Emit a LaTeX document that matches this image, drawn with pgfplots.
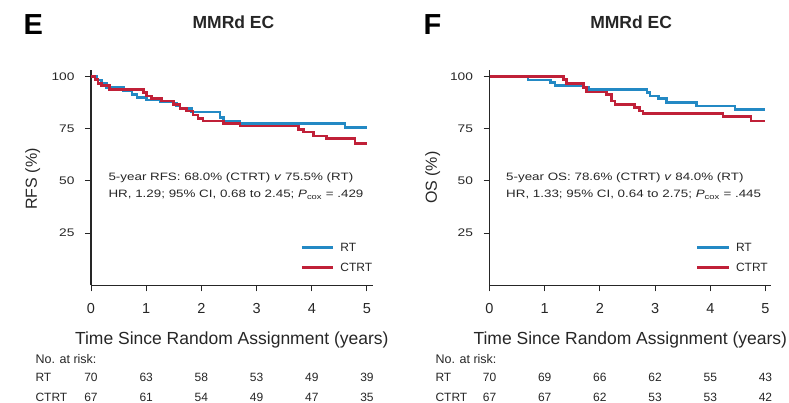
\documentclass[border=0pt]{standalone}
\usepackage{fontspec}
\setmainfont{Liberation Sans}
\newfontfamily\widefont[FakeStretch=1.25]{Liberation Sans}
\usepackage{pgfplots}
\pgfplotsset{compat=1.18}
\definecolor{rtblue}{RGB}{35,137,196}
\definecolor{ctred}{RGB}{192,32,56}
\definecolor{txt}{gray}{0.15}
\definecolor{axl}{gray}{0.15}
\tikzset{
  risk/.style={anchor=base, font=\fontsize{12}{14}\selectfont, text=txt},
  note/.style={anchor=base west, font=\widefont\fontsize{10.7}{12}\selectfont, text=txt},
}
\pgfplotsset{kmstyle/.style={
  scale only axis, width=281.5pt, height=215.5pt,
  xmin=0, xmax=5.1, ymin=0, ymax=103,
  axis lines=left, axis line style={-, color=axl, line width=1.3pt},
  xtick={0,1,2,3,4,5}, ytick={25,50,75,100},
  tick align=outside, major tick length=6pt,
  tick style={color=axl, line width=1pt},
  /pgf/number format/assume math mode=true,
  xticklabel style={font=\fontsize{14.5}{16}\selectfont, text=txt, yshift=-8pt},
  yticklabel style={font=\widefont\fontsize{11}{13}\selectfont, text=txt, xshift=-7pt},
  clip=false,
  xlabel style={font=\fontsize{17.5}{20}\selectfont, text=txt, at={(axis description cs:0.5,0)}, anchor=base, yshift=-59.5pt},
  ylabel style={font=\fontsize{16}{18}\selectfont, text=txt, anchor=center},
  title style={font=\bfseries\fontsize{17.5}{20}\selectfont, text=txt, anchor=center},
  legend cell align=left,
  legend style={draw=none, fill=none, inner sep=0pt, anchor=west,
    font=\fontsize{12}{14}\selectfont, text=txt,
    nodes={inner sep=0pt, text height=8.6pt, text depth=0pt},
    row sep=11.8pt},
  legend image code/.code={\draw[##1, line width=2.8pt] (0pt,0pt) -- (31.6pt,0pt); \path (37.3pt,0pt);},
}}
\begin{document}
\begin{tikzpicture}[x=1pt,y=1pt]
\path[use as bounding box] (0,0) rectangle (789,403);
\begin{axis}[kmstyle, at={(91pt,117.5pt)}, anchor=south west,
  xlabel={Time Since Random Assignment (years)},
  ylabel={RFS (\%)},
  ylabel style={at={(axis description cs:-0.207,0.494)}},
  title={MMRd EC},
  title style={at={(axis description cs:0.506,1.1926)}},
  legend style={at={(axis description cs:0.743,0.13)}},
]
\addplot[const plot, color=rtblue, line width=2.6pt] coordinates {
(0,100) (0.10,98.2) (0.19,96.6) (0.28,94.6) (0.59,93.0) (0.74,91.4) (0.83,89.8)
(1.01,88.7) (1.25,87.7) (1.49,87.1) (1.55,85.8) (1.61,84.6) (1.82,82.9)
(2.34,80.2) (2.40,78.6) (2.70,77.5) (4.60,75.5) (5.0,75.5)};
\addlegendentry{RT}
\addplot[const plot, color=ctred, line width=2.6pt] coordinates {
(0,100) (0.07,98.5) (0.13,96.5) (0.19,95.5) (0.34,93.8) (0.95,92.2) (1.01,90.6)
(1.10,89.3) (1.28,88.2) (1.49,86.6) (1.61,84.6) (1.73,83.4) (1.85,81.4)
(1.94,79.8) (2.03,78.6) (2.40,77.5) (2.70,76.2) (3.76,74.7) (3.85,73.4)
(4.03,71.5) (4.27,70.2) (4.78,68.0) (5.0,68.0)};
\addlegendentry{CTRT}
\node[note] at (axis cs:0.254,50.1) {5-year RFS: 68.0\% (CTRT) \textit{v} 75.5\% (RT)};
\node[note] at (axis cs:0.254,42.0) {HR, 1.29; 95\% CI, 0.68 to 2.45; \textit{P}\textsubscript{cox} = .429};
\node[risk] at (axis cs:0,-46.0) {70};
\node[risk] at (axis cs:1,-46.0) {63};
\node[risk] at (axis cs:2,-46.0) {58};
\node[risk] at (axis cs:3,-46.0) {53};
\node[risk] at (axis cs:4,-46.0) {49};
\node[risk] at (axis cs:5,-46.0) {39};
\node[risk] at (axis cs:0,-55.5) {67};
\node[risk] at (axis cs:1,-55.5) {61};
\node[risk] at (axis cs:2,-55.5) {54};
\node[risk] at (axis cs:3,-55.5) {49};
\node[risk] at (axis cs:4,-55.5) {47};
\node[risk] at (axis cs:5,-55.5) {35};
\end{axis}
\begin{axis}[kmstyle, at={(489.5pt,117.5pt)}, anchor=south west,
  xlabel={Time Since Random Assignment (years)},
  ylabel={OS (\%)},
  ylabel style={at={(axis description cs:-0.2018,0.50)}},
  title={MMRd EC},
  title style={at={(axis description cs:0.503,1.1926)}},
  legend style={at={(axis description cs:0.733,0.13)}},
]
\addplot[const plot, color=rtblue, line width=2.6pt] coordinates {
(0,100) (0.70,98.2) (1.10,97.0) (1.19,95.7) (1.70,94.6) (1.79,93.8) (2.85,92.2)
(2.91,90.6) (3.06,89.3) (3.21,87.4) (3.75,85.8) (4.45,84.0) (5.0,84.0)};
\addlegendentry{RT}
\addplot[const plot, color=ctred, line width=2.6pt] coordinates {
(0,100) (1.34,98.5) (1.40,96.6) (1.70,94.6) (1.76,92.5) (2.12,91.4) (2.21,88.2)
(2.27,86.6) (2.63,85.0) (2.72,83.4) (2.78,82.2) (4.23,80.7) (4.74,78.6) (5.0,78.6)};
\addlegendentry{CTRT}
\node[note] at (axis cs:0.239,50.1) {5-year OS: 78.6\% (CTRT) \textit{v} 84.0\% (RT)};
\node[note] at (axis cs:0.239,42.0) {HR, 1.33; 95\% CI, 0.64 to 2.75; \textit{P}\textsubscript{cox} = .445};
\node[risk] at (axis cs:0,-46.0) {70};
\node[risk] at (axis cs:1,-46.0) {69};
\node[risk] at (axis cs:2,-46.0) {66};
\node[risk] at (axis cs:3,-46.0) {62};
\node[risk] at (axis cs:4,-46.0) {55};
\node[risk] at (axis cs:5,-46.0) {43};
\node[risk] at (axis cs:0,-55.5) {67};
\node[risk] at (axis cs:1,-55.5) {67};
\node[risk] at (axis cs:2,-55.5) {62};
\node[risk] at (axis cs:3,-55.5) {53};
\node[risk] at (axis cs:4,-55.5) {53};
\node[risk] at (axis cs:5,-55.5) {42};
\end{axis}
\node[anchor=base west, font=\bfseries\fontsize{29}{32}\selectfont] at (20,368) {E};
\node[anchor=base west, font=\bfseries\fontsize{29}{32}\selectfont] at (420,368) {F};
\node[anchor=base west, font=\fontsize{12.5}{14}\selectfont, text=txt] at (32,39) {No. at risk:};
\node[anchor=base west, font=\fontsize{12}{14}\selectfont, text=txt] at (32,21.3) {RT};
\node[anchor=base west, font=\fontsize{12}{14}\selectfont, text=txt] at (32,1.3) {CTRT};
\node[anchor=base west, font=\fontsize{12.5}{14}\selectfont, text=txt] at (432,39) {No. at risk:};
\node[anchor=base west, font=\fontsize{12}{14}\selectfont, text=txt] at (432,21.3) {RT};
\node[anchor=base west, font=\fontsize{12}{14}\selectfont, text=txt] at (432,1.3) {CTRT};
\end{tikzpicture}
\end{document}
